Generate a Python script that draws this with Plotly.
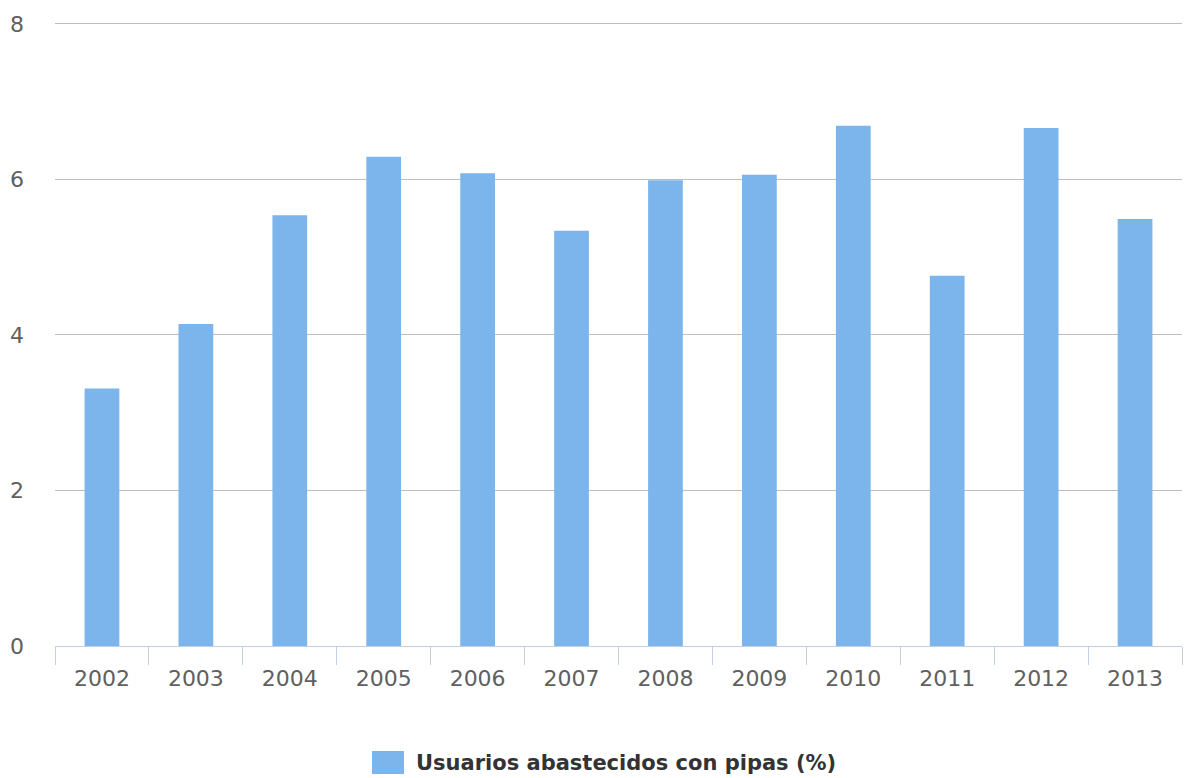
import plotly.graph_objects as go

# Annual share of users supplied by water trucks
years = ["2002", "2003", "2004", "2005", "2006", "2007",
         "2008", "2009", "2010", "2011", "2012", "2013"]
values = [3.31, 4.14, 5.54, 6.29, 6.08, 5.34, 5.99, 6.06, 6.69, 4.76, 6.66, 5.49]
series_name = "Usuarios abastecidos con pipas (%)"
y_ticks = [0, 2, 4, 6, 8]

bar_color = "#7CB5EC"
label_color = "#606060"
font_family = "DejaVu Sans"

fig = go.Figure()
fig.add_trace(go.Bar(
    x=years, y=values, name=series_name,
    marker=dict(color=bar_color, line=dict(width=0)),
    showlegend=False,
))

fig.update_layout(
    width=1185, height=778,
    margin=dict(l=55, r=3, t=20, b=132),
    paper_bgcolor="white", plot_bgcolor="white",
    bargap=0.63,
    font=dict(family=font_family, color=label_color, size=22),
    xaxis=dict(
        type="category",
        showline=True, linecolor="#C0D0E0", linewidth=1.3,
        ticks="outside", tickson="boundaries", ticklen=18,
        tickcolor="#C0D0E0", tickwidth=1.3,
        ticklabelstandoff=12,
        showgrid=False,
        tickfont=dict(size=22, color=label_color, family=font_family),
    ),
    yaxis=dict(
        range=[0, 8.05], tickvals=y_ticks,
        showgrid=True, gridcolor="#BEBEBE", gridwidth=1.3,
        zeroline=False, showline=False,
        ticks="", ticklabelstandoff=30,
        tickfont=dict(size=22, color=label_color, family=font_family),
    ),
)

# Legend entry drawn below the plot
fig.add_shape(type="rect", xref="paper", yref="paper",
              x0=(372 - 55) / 1127, x1=(404 - 55) / 1127,
              y0=-(774 - 646) / 626, y1=-(751 - 646) / 626,
              fillcolor=bar_color, line=dict(width=0))
fig.add_annotation(xref="paper", yref="paper",
                   x=(414 - 55) / 1127, y=-(763 - 646) / 626,
                   xanchor="left", yanchor="middle", showarrow=False,
                   text="<b>" + series_name + "</b>",
                   font=dict(size=21, color="#333333", family=font_family))

fig.write_html("out.html")
